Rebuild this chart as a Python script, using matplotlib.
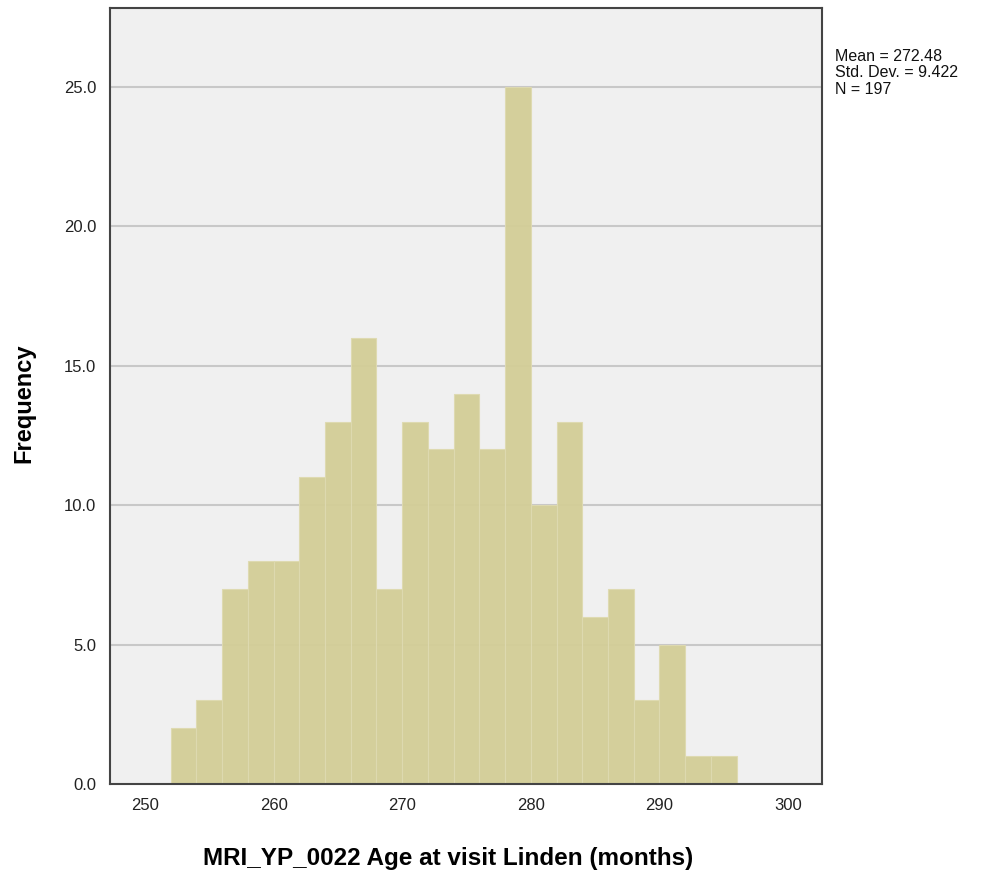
import matplotlib
matplotlib.use("Agg")
import matplotlib.pyplot as plt
import numpy as np

bin_edges = list(range(252, 298, 2))
counts = [2, 3, 7, 8, 8, 11, 13, 16, 7, 13, 12, 14, 12, 25, 10, 13, 6, 7, 3, 5, 1, 1]
x_ticks = [250, 260, 270, 280, 290, 300]
y_ticks = [0, 5, 10, 15, 20, 25]
stats_text = "Mean = 272.48\nStd. Dev. = 9.422\nN = 197"
x_label = "MRI_YP_0022 Age at visit Linden (months)"
y_label = "Frequency"

plt.rcParams['font.family'] = ['Liberation Sans', 'DejaVu Sans']

fig = plt.figure(figsize=(9.89, 8.77), dpi=100)
ax = fig.add_axes([110/989, 1-784/877, (822-110)/989, (784-8)/877])
ax.set_facecolor('#F0F0F0')

for y in y_ticks[1:]:
    ax.axhline(y, color='#C8C8C8', lw=1.5, zorder=1)

lefts = np.array(bin_edges[:-1])
widths = np.diff(bin_edges)
ax.bar(lefts, counts, width=widths, align='edge', color='#D3CE97',
       edgecolor='#DEDAB0', linewidth=0.8, alpha=0.95, zorder=2)

ax.set_xlim(247.28, 302.64)
ax.set_ylim(0, 27.83)
ax.set_xticks(x_ticks)
ax.set_xticklabels([str(v) for v in x_ticks])
ax.set_yticks(y_ticks)
ax.set_yticklabels([f"{v:.1f}" for v in y_ticks])
ax.tick_params(length=0, labelsize=12, colors='#222222', pad=10)

for s in ax.spines.values():
    s.set_color('#444444')
    s.set_linewidth(1.5)

fig.text(448/989, 1-859/877, x_label, fontsize=17.5, fontweight='bold',
         ha='center', va='center')
fig.text(24/989, 1-403/877, y_label, fontsize=17, fontweight='bold',
         ha='center', va='center', rotation=90)

fig.text(835/989, 1-49/877, stats_text, fontsize=11.5, va='top', ha='left',
         color='#111111', linespacing=1.12)

fig.savefig("out.png", dpi=100)
